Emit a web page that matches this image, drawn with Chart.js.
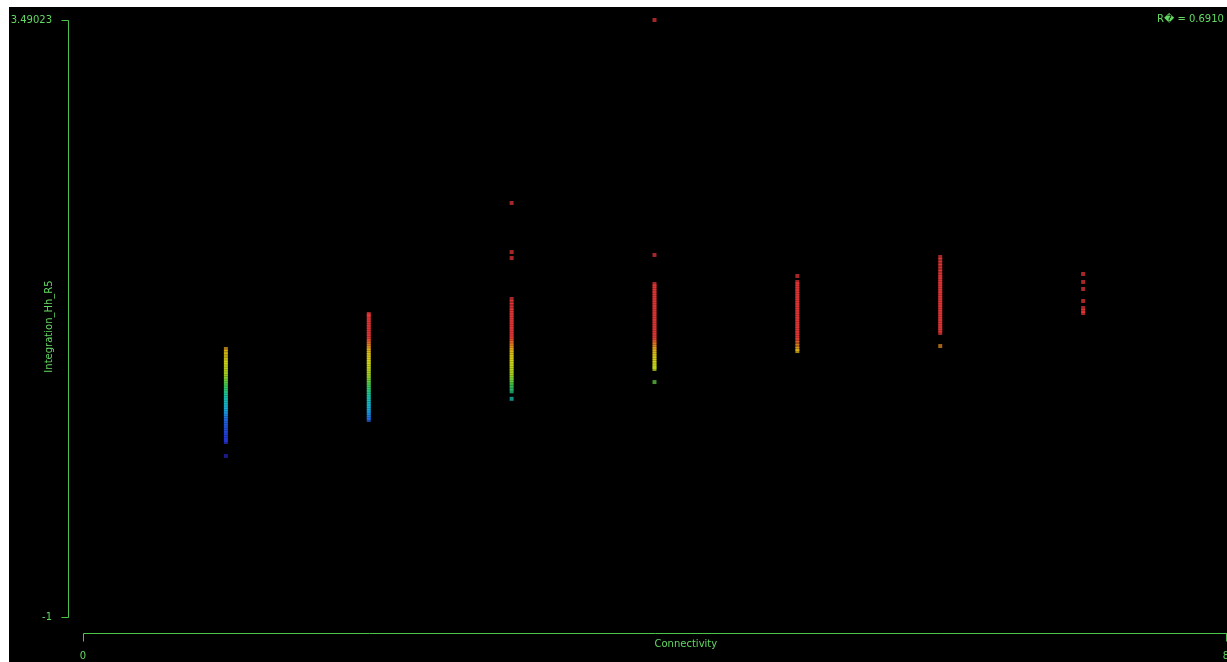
<!DOCTYPE html>
<html>
<head>
<meta charset="utf-8">
<script src="https://cdn.jsdelivr.net/npm/chart.js@4/dist/chart.umd.min.js"></script>
<style>
  html, body { margin: 0; padding: 0; background: #fff; width: 1227px; height: 662px; overflow: hidden; }
  #wrap { position: absolute; left: 9px; top: 7px; width: 1218px; height: 655px; background: #000; }
</style>
</head>
<body>
<div id="wrap"><canvas id="chart" width="1218" height="655"></canvas></div>
<script>
// connectivity values (x) and the Integration_Hh_R5 values read per column
const connectivity = [1, 2, 3, 4, 5, 6, 7];
const col1 = [1.016, 0.994, 0.975, 0.952, 0.931, 0.914, 0.897, 0.878, 0.861, 0.842, 0.826, 0.807, 0.79, 0.771, 0.755, 0.736, 0.719, 0.701, 0.684, 0.666, 0.648, 0.631, 0.613, 0.596, 0.578, 0.561, 0.543, 0.526, 0.508, 0.49, 0.473, 0.455, 0.438, 0.42, 0.401, 0.384, 0.366, 0.347, 0.331, 0.316, 0.211];
const col2 = [1.279, 1.268, 1.251, 1.233, 1.216, 1.198, 1.181, 1.163, 1.146, 1.128, 1.111, 1.093, 1.076, 1.058, 1.041, 1.023, 1.006, 0.988, 0.971, 0.953, 0.936, 0.918, 0.901, 0.883, 0.866, 0.848, 0.831, 0.813, 0.796, 0.778, 0.761, 0.743, 0.726, 0.708, 0.691, 0.673, 0.656, 0.638, 0.621, 0.603, 0.586, 0.568, 0.551, 0.533, 0.516, 0.498, 0.482];
const col3 = [2.114, 1.745, 1.7, 1.392, 1.369, 1.347, 1.324, 1.306, 1.288, 1.271, 1.253, 1.236, 1.218, 1.201, 1.183, 1.166, 1.148, 1.131, 1.113, 1.096, 1.078, 1.061, 1.043, 1.026, 1.008, 0.991, 0.973, 0.956, 0.938, 0.921, 0.903, 0.886, 0.868, 0.851, 0.833, 0.816, 0.798, 0.781, 0.763, 0.742, 0.72, 0.697, 0.641];
const col4 = [3.49023, 1.723, 1.505, 1.488, 1.471, 1.453, 1.436, 1.418, 1.401, 1.383, 1.366, 1.348, 1.331, 1.313, 1.296, 1.278, 1.261, 1.243, 1.226, 1.208, 1.191, 1.173, 1.156, 1.138, 1.121, 1.103, 1.086, 1.068, 1.051, 1.033, 1.016, 0.998, 0.981, 0.963, 0.946, 0.928, 0.911, 0.893, 0.878, 0.865, 0.767];
const col5 = [1.565, 1.52, 1.503, 1.486, 1.468, 1.451, 1.433, 1.416, 1.398, 1.381, 1.363, 1.346, 1.328, 1.311, 1.293, 1.276, 1.258, 1.241, 1.223, 1.206, 1.188, 1.171, 1.153, 1.136, 1.118, 1.101, 1.083, 1.061, 1.038, 1.016, 1.0];
const col6 = [1.708, 1.686, 1.662, 1.641, 1.617, 1.596, 1.575, 1.557, 1.54, 1.522, 1.505, 1.487, 1.47, 1.452, 1.435, 1.417, 1.4, 1.382, 1.365, 1.347, 1.33, 1.312, 1.295, 1.277, 1.26, 1.242, 1.225, 1.207, 1.19, 1.172, 1.155, 1.136, 1.038];
const col7 = [1.58, 1.52, 1.467, 1.377, 1.324, 1.301, 1.286];
const columns = [col1, col2, col3, col4, col5, col6, col7];

const xTicks = [0, 8];
const xTickLabels = ['0', '8'];
const yTicks = [-1, 3.49023];
const yTickLabels = ['-1', '3.49023'];
const xTitle = 'Connectivity';
const yTitle = 'Integration_Hh_R5';
const rText = 'R\uFFFD = 0.6910';

const lineColor = '#4cc44c';
const textColor = '#62d862';

// colour ramp by value (blue low -> red high)
const ramp = [
  [0.20, [40, 40, 200]],
  [0.35, [40, 65, 245]],
  [0.48, [35, 115, 250]],
  [0.56, [25, 195, 250]],
  [0.66, [25, 220, 190]],
  [0.74, [70, 230, 90]],
  [0.82, [185, 235, 35]],
  [0.92, [240, 240, 25]],
  [1.00, [250, 205, 25]],
  [1.05, [255, 135, 35]],
  [1.10, [255, 60, 60]]
];
function colorFor(v) {
  const a0 = 0.65;
  if (v <= ramp[0][0]) return 'rgba(' + ramp[0][1].join(',') + ',' + a0 + ')';
  for (let i = 1; i < ramp.length; i++) {
    if (v <= ramp[i][0]) {
      const a = ramp[i - 1], b = ramp[i];
      const t = (v - a[0]) / (b[0] - a[0]);
      const c = a[1].map((k, j) => Math.round(k + (b[1][j] - k) * t));
      return 'rgba(' + c.join(',') + ',' + a0 + ')';
    }
  }
  return 'rgba(' + ramp[ramp.length - 1][1].join(',') + ',' + a0 + ')';
}

const axesPlugin = {
  id: 'axes',
  afterDraw(chart) {
    const { ctx, chartArea, scales: { x, y } } = chart;
    ctx.save();
    ctx.strokeStyle = lineColor;
    ctx.lineWidth = 1;
    ctx.beginPath();
    // y axis, set off to the left of the plot
    const ax = Math.round(chartArea.left - 15) + 0.5;
    ctx.moveTo(ax, Math.round(y.getPixelForValue(yTicks[1])) + 0.5);
    ctx.lineTo(ax, Math.round(y.getPixelForValue(yTicks[0])) + 0.5);
    yTicks.forEach(v => {
      const p = Math.round(y.getPixelForValue(v)) + 0.5;
      ctx.moveTo(ax - 7, p);
      ctx.lineTo(ax, p);
    });
    // x axis, set off below the plot
    const ay = Math.round(chartArea.bottom + 16) + 0.5;
    ctx.moveTo(Math.round(x.getPixelForValue(xTicks[0])) + 0.5, ay);
    ctx.lineTo(chart.width, ay);
    xTicks.forEach(v => {
      const p = Math.round(x.getPixelForValue(v)) + 0.5;
      ctx.moveTo(p, ay);
      ctx.lineTo(p, ay + 8);
    });
    ctx.stroke();

    ctx.fillStyle = textColor;
    ctx.font = '10px "DejaVu Sans"';
    ctx.textBaseline = 'middle';
    ctx.textAlign = 'left';
    ctx.fillText(xTitle, x.getPixelForValue(4), ay + 11);
    ctx.fillText(rText, 1148, 12);

    ctx.translate(chartArea.left - 34, (chartArea.top + chartArea.bottom) / 2 + 8);
    ctx.rotate(-Math.PI / 2);
    ctx.textAlign = 'center';
    ctx.fillText(yTitle, 0, 0);
    ctx.restore();
  }
};

Chart.defaults.font.family = '"DejaVu Sans"';
Chart.defaults.font.size = 10;

new Chart(document.getElementById('chart'), {
  type: 'scatter',
  plugins: [axesPlugin],
  data: {
    datasets: columns.map((col, i) => ({
      data: col.map(v => ({ x: connectivity[i], y: v })),
      pointStyle: 'rect',
      pointRadius: 2.8,
      borderWidth: 0,
      backgroundColor: c => colorFor(c.raw ? c.raw.y : 1),
      clip: false
    }))
  },
  options: {
    responsive: false,
    animation: false,
    events: [],
    layout: { autoPadding: false, padding: { top: 13, right: 1, bottom: 0, left: 0 } },
    plugins: { legend: { display: false }, tooltip: { enabled: false } },
    scales: {
      x: {
        type: 'linear',
        min: 0,
        max: 8,
        afterBuildTicks: s => { s.ticks = xTicks.map(v => ({ value: v })); },
        afterFit: s => { s.height = 45; s.paddingLeft = 0; s.paddingRight = 0; },
        grid: { display: false, drawTicks: false },
        border: { display: false },
        ticks: {
          color: textColor,
          padding: 33,
          maxRotation: 0,
          autoSkip: false,
          callback: (v, i) => xTickLabels[i]
        }
      },
      y: {
        min: -1,
        max: 3.49023,
        afterBuildTicks: s => { s.ticks = yTicks.map(v => ({ value: v })); },
        afterFit: s => { s.width = 74; s.paddingTop = 0; s.paddingBottom = 0; },
        grid: { display: false, drawTicks: false },
        border: { display: false },
        ticks: {
          color: textColor,
          padding: 31,
          autoSkip: false,
          callback: (v, i) => yTickLabels[i]
        }
      }
    }
  }
});
</script>
</body>
</html>
